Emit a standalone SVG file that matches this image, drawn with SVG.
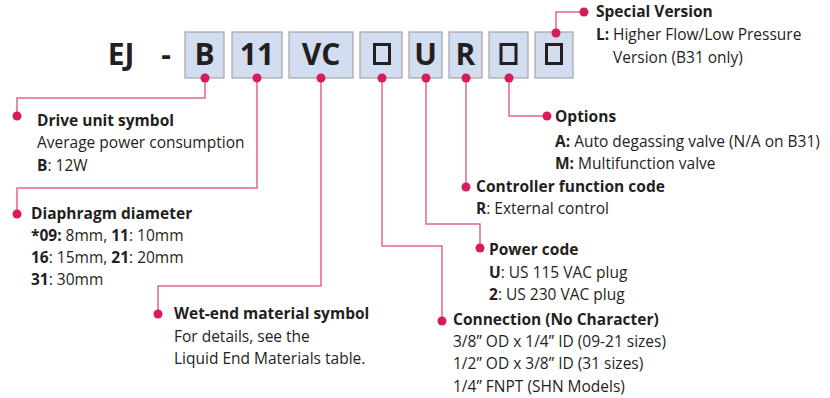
<svg xmlns="http://www.w3.org/2000/svg" width="830" height="398" viewBox="0 0 830 398">
<style>
text{font-family:"Open Sans","Noto Sans","Liberation Sans",sans-serif;fill:#231f20;}
.t{font-size:15.5px;}
.b{font-weight:bold;}
.big{font-size:30px;font-weight:bold;text-anchor:middle;}
.box{fill:#d2ddf0;stroke:#a3a6ab;stroke-width:1.2;}
.sq{fill:none;stroke:#231f20;stroke-width:3;}
.ln{fill:none;stroke:#e2668f;stroke-width:1.5;}
.dot{fill:#d81b5b;}
</style>
<rect width="830" height="398" fill="#ffffff"/>
<g id="code">
<text x="121" y="65" class="big">EJ</text>
<text x="166" y="65" class="big">-</text>
<g id="box-B"><rect class="box" x="185" y="32" width="39" height="46"/><text x="204.5" y="65" class="big">B</text></g>
<g id="box-11"><rect class="box" x="232" y="32" width="50" height="46"/><text x="257" y="65" class="big">11</text></g>
<g id="box-VC"><rect class="box" x="289" y="32" width="64" height="46"/><text x="321" y="65" class="big">VC</text></g>
<g id="box-conn"><rect class="box" x="360" y="32" width="42" height="46"/><rect class="sq" x="374.5" y="44.5" width="15" height="19"/></g>
<g id="box-U"><rect class="box" x="409" y="32" width="33" height="46"/><text x="425.5" y="65" class="big">U</text></g>
<g id="box-R"><rect class="box" x="449" y="32" width="33" height="46"/><text x="465.5" y="65" class="big">R</text></g>
<g id="box-opt"><rect class="box" x="489" y="32" width="39" height="46"/><rect class="sq" x="501" y="44.5" width="15" height="19"/></g>
<g id="box-spec"><rect class="box" x="535" y="32" width="38" height="46"/><rect class="sq" x="546.5" y="44.5" width="15" height="19"/></g>
</g>
<g id="connectors">
<path class="ln" d="M205 78V98H17V116"/>
<path class="ln" d="M257 78V188H17V214"/>
<path class="ln" d="M321 78V286H158V314"/>
<path class="ln" d="M382 78V246H442V321"/>
<path class="ln" d="M426 78V224H480V248"/>
<path class="ln" d="M466 78V187"/>
<path class="ln" d="M509 78V116H547"/>
<path class="ln" d="M556 33V12H584"/>
<g class="dot">
<circle cx="205" cy="78" r="4.5"/><circle cx="17" cy="116" r="4.5"/>
<circle cx="257" cy="78" r="4.5"/><circle cx="17" cy="214" r="4.5"/>
<circle cx="321" cy="78" r="4.5"/><circle cx="158" cy="314" r="4.5"/>
<circle cx="382" cy="78" r="4.5"/><circle cx="442" cy="321" r="4.5"/>
<circle cx="426" cy="78" r="4.5"/><circle cx="480" cy="248" r="4.5"/>
<circle cx="466" cy="78" r="4.5"/><circle cx="466" cy="187" r="4.5"/>
<circle cx="509" cy="78" r="4.5"/><circle cx="547" cy="116" r="4.5"/>
<circle cx="556" cy="33" r="4.5"/><circle cx="584" cy="12" r="4.5"/>
</g>
</g>
<g id="special" class="t">
<text x="596" y="17" class="b">Special Version</text>
<text x="596" y="40"><tspan class="b">L:</tspan><tspan x="613">Higher Flow/Low Pressure</tspan></text>
<text x="613" y="63">Version (B31 only)</text>
</g>
<g id="options" class="t">
<text x="555" y="122" class="b">Options</text>
<text x="555" y="147"><tspan class="b">A:</tspan> Auto degassing valve (N/A on B31)</text>
<text x="555" y="169"><tspan class="b">M:</tspan> Multifunction valve</text>
</g>
<g id="controller" class="t">
<text x="476" y="192" class="b">Controller function code</text>
<text x="476" y="214"><tspan class="b">R</tspan>: External control</text>
</g>
<g id="power" class="t">
<text x="489" y="255" class="b">Power code</text>
<text x="489" y="278"><tspan class="b">U</tspan>: US 115 VAC plug</text>
<text x="489" y="300"><tspan class="b">2</tspan>: US 230 VAC plug</text>
</g>
<g id="connection" class="t">
<text x="453" y="325" class="b">Connection (No Character)</text>
<text x="453" y="347">3/8” OD x 1/4” ID (09-21 sizes)</text>
<text x="453" y="369">1/2” OD x 3/8” ID (31 sizes)</text>
<text x="453" y="392">1/4” FNPT (SHN Models)</text>
</g>
<g id="wetend" class="t">
<text x="174" y="319" class="b">Wet-end material symbol</text>
<text x="174" y="342">For details, see the</text>
<text x="174" y="364">Liquid End Materials table.</text>
</g>
<g id="drive" class="t">
<text x="37" y="126" class="b">Drive unit symbol</text>
<text x="37" y="148">Average power consumption</text>
<text x="37" y="171"><tspan class="b">B</tspan>: 12W</text>
</g>
<g id="diaphragm" class="t">
<text x="31" y="219" class="b">Diaphragm diameter</text>
<text x="31" y="241"><tspan class="b">*09:</tspan> 8mm, <tspan class="b">11</tspan>: 10mm</text>
<text x="31" y="263"><tspan class="b">16</tspan>: 15mm, <tspan class="b">21</tspan>: 20mm</text>
<text x="31" y="285"><tspan class="b">31</tspan>: 30mm</text>
</g>
</svg>
